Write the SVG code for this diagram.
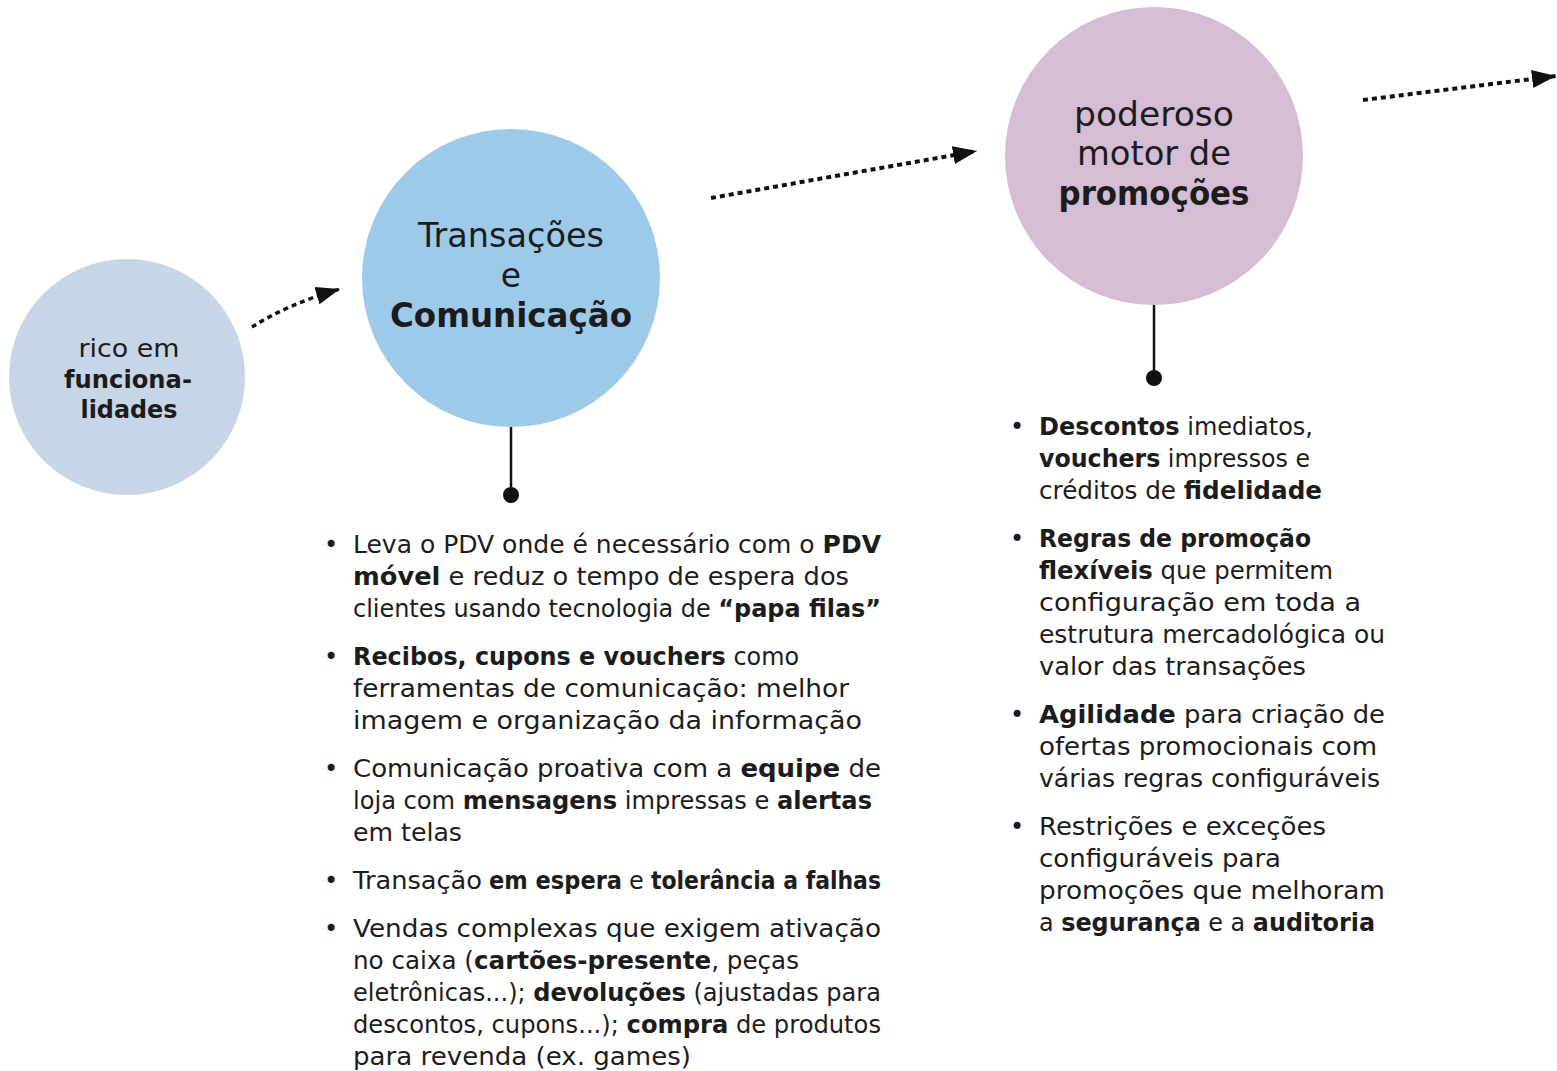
<svg xmlns="http://www.w3.org/2000/svg" width="1557" height="1071" viewBox="0 0 1557 1071">
<style>
.t{font-family:"DejaVu Sans","Liberation Sans",sans-serif;fill:#1c1c1c}
.c{text-anchor:middle}
.l{font-size:24px}
.b{font-weight:bold}
.conn{fill:none;stroke:#111;stroke-dasharray:5 4}
.stem{stroke:#111;stroke-width:2.5}
</style>
<defs>
<marker id="ah" markerUnits="userSpaceOnUse" markerWidth="26" markerHeight="20" refX="24" refY="10" orient="auto">
<path d="M0,1 L24,10 L0,19 Z" fill="#111"/>
</marker>
</defs>
<rect width="1557" height="1071" fill="#fff"/>
<g id="connectors">
<path class="conn" d="M252,327 Q288,304 340,289" stroke-width="3.5" marker-end="url(#ah)"/>
<path class="conn" d="M711,198 L977,151" stroke-width="4" marker-end="url(#ah)"/>
<path class="conn" d="M1363,100 L1556,76" stroke-width="4" marker-end="url(#ah)"/>
<line class="stem" x1="511" y1="427" x2="511" y2="495"/>
<circle cx="511" cy="495" r="8" fill="#111"/>
<line class="stem" x1="1154" y1="305" x2="1154" y2="378"/>
<circle cx="1154" cy="378" r="8" fill="#111"/>
</g>
<g id="node-funcionalidades">
<circle cx="127" cy="377" r="118" fill="#c7d6e6"/>
<text class="t c" x="129" y="357" font-size="25" textLength="101" lengthAdjust="spacingAndGlyphs">rico em</text>
<text class="t c b" x="128" y="388" font-size="25" textLength="128" lengthAdjust="spacingAndGlyphs">funciona-</text>
<text class="t c b" x="129" y="418" font-size="25" textLength="97" lengthAdjust="spacingAndGlyphs">lidades</text>
</g>
<g id="node-transacoes">
<circle cx="511" cy="278" r="149" fill="#9ecae9"/>
<text class="t c" x="511" y="247" font-size="33" textLength="186" lengthAdjust="spacingAndGlyphs">Transações</text>
<text class="t c" x="511" y="287" font-size="33">e</text>
<text class="t c b" x="511" y="327" font-size="33" textLength="242" lengthAdjust="spacingAndGlyphs">Comunicação</text>
</g>
<g id="node-promocoes">
<circle cx="1154" cy="156" r="149" fill="#d5bdd5"/>
<text class="t c" x="1154" y="126" font-size="33" textLength="160" lengthAdjust="spacingAndGlyphs">poderoso</text>
<text class="t c" x="1154" y="165" font-size="33" textLength="154" lengthAdjust="spacingAndGlyphs">motor de</text>
<text class="t c b" x="1154" y="205" font-size="33" textLength="191" lengthAdjust="spacingAndGlyphs">promoções</text>
</g>
<g id="list-transacoes" class="t l">
<text x="324" y="553">•</text>
<text x="353" y="553" textLength="528" lengthAdjust="spacingAndGlyphs">Leva o PDV onde é necessário com o <tspan class="b">PDV</tspan></text>
<text x="353" y="585" textLength="496" lengthAdjust="spacingAndGlyphs"><tspan class="b">móvel</tspan> e reduz o tempo de espera dos</text>
<text x="353" y="617" textLength="528" lengthAdjust="spacingAndGlyphs">clientes usando tecnologia de <tspan class="b">“papa filas”</tspan></text>
<text x="324" y="665">•</text>
<text x="353" y="665" textLength="446" lengthAdjust="spacingAndGlyphs"><tspan class="b">Recibos, cupons e vouchers</tspan> como</text>
<text x="353" y="697" textLength="496" lengthAdjust="spacingAndGlyphs">ferramentas de comunicação: melhor</text>
<text x="353" y="729" textLength="509" lengthAdjust="spacingAndGlyphs">imagem e organização da informação</text>
<text x="324" y="777">•</text>
<text x="353" y="777" textLength="528" lengthAdjust="spacingAndGlyphs">Comunicação proativa com a <tspan class="b">equipe</tspan> de</text>
<text x="353" y="809" textLength="519" lengthAdjust="spacingAndGlyphs">loja com <tspan class="b">mensagens</tspan> impressas e <tspan class="b">alertas</tspan></text>
<text x="353" y="841" textLength="109" lengthAdjust="spacingAndGlyphs">em telas</text>
<text x="324" y="889">•</text>
<text x="353" y="889" textLength="129" lengthAdjust="spacingAndGlyphs">Transação</text>
<text x="489" y="889" textLength="133" lengthAdjust="spacingAndGlyphs" class="b">em espera</text>
<text x="629" y="889">e</text>
<text x="651" y="889" textLength="230" lengthAdjust="spacingAndGlyphs" class="b">tolerância a falhas</text>
<text x="324" y="937">•</text>
<text x="353" y="937" textLength="528" lengthAdjust="spacingAndGlyphs">Vendas complexas que exigem ativação</text>
<text x="353" y="969" textLength="446" lengthAdjust="spacingAndGlyphs">no caixa (<tspan class="b">cartões-presente</tspan>, peças</text>
<text x="353" y="1001" textLength="528" lengthAdjust="spacingAndGlyphs">eletrônicas...); <tspan class="b">devoluções</tspan> (ajustadas para</text>
<text x="353" y="1033" textLength="528" lengthAdjust="spacingAndGlyphs">descontos, cupons...); <tspan class="b">compra</tspan> de produtos</text>
<text x="353" y="1065" textLength="338" lengthAdjust="spacingAndGlyphs">para revenda (ex. games)</text>
</g>
<g id="list-promocoes" class="t l">
<text x="1010" y="435">•</text>
<text x="1039" y="435" textLength="274" lengthAdjust="spacingAndGlyphs"><tspan class="b">Descontos</tspan> imediatos,</text>
<text x="1039" y="467" textLength="271" lengthAdjust="spacingAndGlyphs"><tspan class="b">vouchers</tspan> impressos e</text>
<text x="1039" y="499" textLength="283" lengthAdjust="spacingAndGlyphs">créditos de <tspan class="b">fidelidade</tspan></text>
<text x="1010" y="547">•</text>
<text x="1039" y="547" textLength="272" lengthAdjust="spacingAndGlyphs" class="b">Regras de promoção</text>
<text x="1039" y="579" textLength="294" lengthAdjust="spacingAndGlyphs"><tspan class="b">flexíveis</tspan> que permitem</text>
<text x="1039" y="611" textLength="322" lengthAdjust="spacingAndGlyphs">configuração em toda a</text>
<text x="1039" y="643" textLength="346" lengthAdjust="spacingAndGlyphs">estrutura mercadológica ou</text>
<text x="1039" y="675" textLength="267" lengthAdjust="spacingAndGlyphs">valor das transações</text>
<text x="1010" y="723">•</text>
<text x="1039" y="723" textLength="346" lengthAdjust="spacingAndGlyphs"><tspan class="b">Agilidade</tspan> para criação de</text>
<text x="1039" y="755" textLength="338" lengthAdjust="spacingAndGlyphs">ofertas promocionais com</text>
<text x="1039" y="787" textLength="341" lengthAdjust="spacingAndGlyphs">várias regras configuráveis</text>
<text x="1010" y="835">•</text>
<text x="1039" y="835" textLength="287" lengthAdjust="spacingAndGlyphs">Restrições e exceções</text>
<text x="1039" y="867" textLength="242" lengthAdjust="spacingAndGlyphs">configuráveis para</text>
<text x="1039" y="899" textLength="346" lengthAdjust="spacingAndGlyphs">promoções que melhoram</text>
<text x="1039" y="931" textLength="336" lengthAdjust="spacingAndGlyphs">a <tspan class="b">segurança</tspan> e a <tspan class="b">auditoria</tspan></text>
</g>
</svg>
